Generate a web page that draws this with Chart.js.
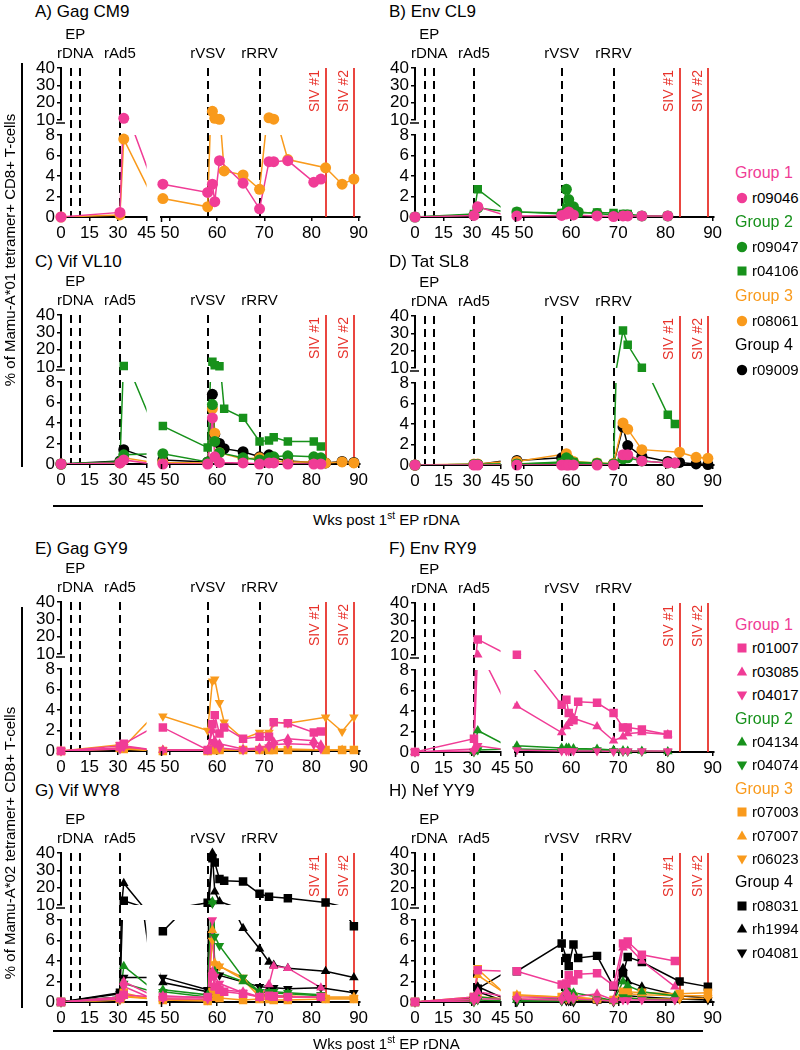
<!DOCTYPE html>
<html>
<head>
<meta charset="utf-8">
<script src="https://cdn.jsdelivr.net/npm/chart.js@4.4.1/dist/chart.umd.min.js"></script>
<style>
  body { margin: 0; background: #fff; font-family: "Liberation Sans", Arial, sans-serif; }
  #page { position: relative; width: 800px; height: 1050px; overflow: hidden; background: #fff; }
  #page canvas { position: absolute; }
  .txt { position: absolute; white-space: nowrap; line-height: 20px; }
  .rot { position: absolute; white-space: nowrap; transform: translate(-50%, -50%) rotate(-90deg); font-size: 15px; }
  .hline { position: absolute; height: 1.5px; background: #000; }
  .vline { position: absolute; width: 1.5px; background: #000; }
</style>
</head>
<body>
<div id="page"></div>
<script>
// weeks after first EP rDNA at which samples were taken
const weeks = [0, 31, 33, 48.5, 58, 59, 59.5, 60.5, 61.5, 65.5, 69, 71, 72, 75, 80.5, 82, 83, 86.5, 89]

const xTicksEarly = [0, 15, 30, 45]
const xTicksLate = [50, 60, 70, 80, 90]
const yTicksLow = [0, 2, 4, 6, 8]
const yTicksHigh = [10, 20, 30, 40]

const vaccineWeeks = [5, 10, 31, 58, 69]
const vaccineLabels = [['rAd5', 31], ['rVSV', 58], ['rRRV', 69]]
const sivWeeks = [83, 89]
const sivLabels = ['SIV #1', 'SIV #2']

// Mamu-A*01 animals by group
const groupsA01 = [['r09046'], ['r09047', 'r04106'], ['r08061'], ['r09009']]
// Mamu-A*02 animals by group
const groupsA02 = [['r01007', 'r03085', 'r04017'], ['r04134', 'r04074'], ['r07003', 'r07007', 'r06023'], ['r08031', 'rh1994', 'r04081']]

// A) Gag CM9
const A_r09046 = [0, 0.45, 11, 3.2, 2.4, 3.2, 1.5, 5.5, null, 3.3, 0.8, 5.4, 5.4, 5.5, 3.4, 3.7, null, null, null]
const A_r08061 = [0, 0.2, 7.6, 1.8, 1.0, 15, 11, 10.4, 4.5, 4.1, 2.7, 11.3, 10.5, 5.6, null, null, 4.8, 3.2, 3.7]
// B) Env CL9
const B_r09046 = [0, 0.15, 1.0, 0.1, 0.15, 0.3, 0.5, 0.2, null, 0.1, 0.05, 0.1, 0.1, 0.1, 0.1, null, null, null, null]
const B_r09047 = [0, 0.2, 0.9, 0.5, 0.3, 2.7, 1.7, 1.0, 0.5, 0.35, 0.2, 0.2, 0.2, 0.1, 0.1, null, null, null, null]
const B_r04106 = [0, 0.3, 2.7, 0.5, 0.4, 0.9, 0.6, 0.5, 0.4, 0.45, 0.4, 0.3, 0.3, 0.1, 0.1, null, null, null, null]
// C) Vif VL10
const C_r09046 = [0, 0.1, 0.4, 0, 0, 4.5, 0.7, 0.15, null, 0.1, 0, 0.1, 0.1, 0, 0, 0, null, null, null]
const C_r09047 = [0, 0.2, 0.9, 1.0, 0.2, 5.8, 2.2, 1.1, null, 0.6, 0.4, 0.6, 0.7, 0.8, 0.7, 0.6, null, null, null]
const C_r04106 = [0, 0.2, 10.6, 3.7, 1.6, 13, 11, 10.4, 5.4, 4.5, 2.2, 2.3, 2.6, 2.2, 2.2, 1.7, null, null, null]
const C_r08061 = [0, 0.1, 0.6, 0.15, 0.1, 5.4, 3.0, 1.1, null, 0.5, 0.6, 0.3, 0.3, 0.2, 0.2, 0.2, 0.1, 0.2, 0.1]
const C_r09009 = [0, 0.3, 1.4, 0.4, 0.2, 6.8, 2.9, 2.0, 1.5, 1.2, 0.7, 0.9, 0.6, 0.3, 0.15, 0.1, 0.1, 0.25, 0.15]
// D) Tat SL8
const D_r09046 = [0, 0, 0, 0, 0, 0, 0, 0, null, 0, 0, 1.0, 1.0, 0.4, 0.2, 0.2, null, null, null]
const D_r09047 = [0, 0.05, 0.05, 0.1, 0.2, 0.7, 0.5, 0.2, null, 0.15, 0.1, 0.6, 0.7, 0.4, 0.2, 0.2, null, null, null]
const D_r04106 = [0, 0.05, 0.05, 0.1, 0.3, 0.6, 0.5, 0.3, null, 0.2, 0.1, 31.6, 23.4, 10.2, 4.9, 4.0, null, null, null]
const D_r08061 = [0, 0.1, 0.1, 0.35, null, 1.1, 0.6, 0.35, null, 0.2, 0.15, 4.1, 3.5, 1.5, null, null, 1.25, 0.75, 0.65]
const D_r09009 = [0, 0.05, 0.05, 0.45, 0.7, 0.5, 0.3, 0.2, null, 0.1, 0.1, 3.7, 1.9, 0.85, 0.35, null, 0.25, 0.1, 0.05]
// E) Gag GY9
const E_r01007 = [0, 0.5, 0.7, 2.3, 0.1, 2.6, 3.5, 1.7, 2.3, 1.2, 1.4, 1.4, 2.8, 2.7, 1.8, 1.9, null, null, null]
const E_r03085 = [0, 0.3, 0.5, 0.1, 0.1, 2.0, 1.0, 0.7, null, 0.2, 0.3, 0.6, 0.9, 1.2, 1.0, 0.6, null, null, null]
const E_r04017 = [0, 0.2, 0.4, 0.1, 0.1, 0.9, 0.7, 0.3, null, 0.1, 0.2, 0.4, 0.6, 0.7, 0.6, 0.2, null, null, null]
const E_r07003 = [0, 0.3, 0.2, 0, 0, 0.1, 0.1, 0.1, null, 0.1, 0.1, 0.1, 0.1, 0.1, null, null, 0.1, 0.1, 0.1]
const E_r07007 = [0, 0.2, 0.3, 0.1, 0.1, 0.2, 0.2, 0.1, null, 0.1, 0.1, 0.2, 0.2, 0.2, null, null, 0.1, 0.1, 0.1]
const E_r06023 = [0, 0.6, 0.4, 3.4, 2.0, 6.8, 7.0, 4.7, 2.8, 1.2, 1.8, 1.8, 2.8, 2.7, null, null, 3.3, 1.9, 3.3]
// F) Env RY9
const F_r01007 = [0, 1.3, 19, 10.2, 4.6, 5.1, 3.8, 3.1, 4.9, 4.8, 3.8, 2.4, 2.4, 2.2, 1.7, null, null, null, null]
const F_r03085 = [0, 0.3, 10.2, 4.5, 1.9, 2.5, 2.8, 3.3, null, 2.5, 1.1, 1.5, 1.8, 1.9, 1.7, null, null, null, null]
const F_r04017 = [0, 0.1, 0.6, 0.2, 0.1, 0.1, 0.1, 0.1, null, 0.1, 0.05, 0.1, 0.1, 0.1, 0.1, null, null, null, null]
const F_r04134 = [0, 0.05, 2.1, 0.6, 0.4, 0.4, 0.4, 0.35, null, 0.3, 0.2, 0.15, 0.1, 0.1, 0.05, null, null, null, null]
const F_r04074 = [0, 0, 0.2, 0.3, 0.2, 0.2, 0.2, 0.2, null, 0.2, 0.1, 0.05, 0.05, 0.05, 0, null, null, null, null]
// G) Vif WY8
const G_r01007 = [0, 0.4, 0.7, 0.5, 0.5, 2.5, 1.5, 1.2, 1.0, 0.8, 0.5, 0.6, 0.5, 0.5, null, 0.5, null, null, null]
const G_r03085 = [0, 0.5, 2.0, 0.6, 0.4, 3.0, 1.5, 1.2, null, 1.0, 0.5, 1.7, 3.5, 3.3, null, 1.4, null, null, null]
const G_r04017 = [0, 0.3, 1.5, 0.3, 0.3, 8.0, 2.5, 1.8, null, 0.9, 0.5, 0.6, 0.7, 0.5, null, 0.5, null, null, null]
const G_r04134 = [0, 0.5, 3.5, 1.2, 0.7, 12, 3.0, null, null, 2.0, 1.0, 0.9, null, 0.8, null, 0.6, null, null, null]
const G_r04074 = [0, 0.3, 1.8, 1.0, 0.5, 11, 6.4, 5.5, null, 2.4, 1.0, 1.0, 1.0, 0.9, null, 0.7, null, null, null]
const G_r07003 = [0, 0.3, 0.9, 0.2, 0.1, 1.0, 0.5, 0.4, null, 0.2, 0.3, 0.3, 0.2, 0.2, null, null, 0.3, null, 0.3]
const G_r07007 = [0, 0.2, 0.6, 0.3, 0.2, 7.0, 3.8, 3.5, null, 2.2, 0.5, 0.5, 0.5, 0.5, null, null, 0.5, null, 0.5]
const G_r06023 = [0, 0.2, 0.5, 0.3, 0.2, 6.0, 3.7, 3.5, null, 2.4, 0.8, 0.6, 0.6, 0.6, null, null, 0.4, null, 0.4]
const G_r08031 = [0, 0.9, 12.5, 6.9, 11.3, 37, 34.5, 25, 24, 23.5, 16.5, 14.8, null, 13.9, null, null, 11.5, null, 7.4]
const G_rh1994 = [0, 0.5, 22.6, 1.9, 1.0, 40, 17.7, 12, null, 7.2, 5.2, 3.9, 3.6, 3.3, null, null, 3.0, null, 2.4]
const G_r04081 = [0, 0.8, 2.4, 2.4, 1.2, 11, 3.0, 2.6, null, null, 1.5, 1.4, 1.4, 1.3, null, 1.4, null, null, 0.9]
// H) Nef YY9
const H_r01007 = [0, 0.5, 3.1, 3.0, 1.7, 1.8, 2.6, 2.1, 2.7, 2.8, 1.6, 5.7, 5.9, 4.6, null, 4.0, null, null, null]
const H_r03085 = [0, 0.3, 1.0, 0.5, 0.4, 1.0, 0.6, 0.5, null, 0.8, 0.2, 5.3, 5.5, 4.0, null, 1.5, null, null, null]
const H_r04017 = [0, 0.1, 0.3, 0.3, 0.2, 0.7, 0.3, 0.3, null, 0.2, 0.1, 0.2, 0.2, 0.2, null, 0.2, null, null, null]
const H_r04134 = [0, 0.1, 0.5, 0.2, 0.3, 1.2, 1.1, 0.9, null, 0.5, 0.1, 2.0, 1.6, 1.0, null, 0.6, null, null, null]
const H_r04074 = [0, 0, 0.2, 0.1, 0.1, 0.5, 0.3, 0.2, null, 0.2, 0.1, 0.5, 0.4, 0.3, null, 0.2, null, null, null]
const H_r07003 = [0, 0.5, 3.2, 0.6, 0.5, 0.6, 0.7, 0.5, null, 0.3, 0.2, 1.0, 1.0, 0.9, null, null, 0.8, null, 0.9]
const H_r07007 = [0, 0.3, 2.6, 0.7, 0.5, 0.5, 0.5, 0.4, null, 0.3, 0.2, 0.9, 0.8, 0.7, null, null, 0.6, null, 0.6]
const H_r06023 = [0, 0.1, 0.5, 0.3, 0.2, 0.3, 0.3, 0.2, null, 0.2, 0.1, 0.4, 0.4, 0.3, null, null, 0.3, null, 0.4]
const H_r08031 = [0, 0.4, 1.3, 3.0, 5.7, 4.3, 3.5, 5.6, 4.3, 4.5, 1.5, 2.8, 4.4, 3.9, null, null, 2.0, null, 1.5]
const H_rh1994 = [0, 0.3, 1.5, 0.2, 0.3, 0.5, 0.3, 0.2, null, 0.1, 0.1, 3.3, 2.0, 1.5, null, null, 0.6, null, 0.4]
const H_r04081 = [0, 0.2, 1.0, 0, 0.1, 0.1, 0.1, 0, null, 0.1, 0, 0.8, 0.6, 0.5, null, null, 0.3, null, 0.2]

const FONT = '"Liberation Sans", Arial, sans-serif'
const RED = '#e8322b'
const GROUP_COLORS = ['#f03c96', '#17911b', '#f99a1c', '#000000']
const SHAPES = {
  r09046: 'circle', r09047: 'circle', r04106: 'rect', r08061: 'circle', r09009: 'circle',
  r01007: 'rect', r03085: 'tri', r04017: 'inv', r04134: 'tri', r04074: 'inv',
  r07003: 'rect', r07007: 'tri', r06023: 'inv', r08031: 'rect', rh1994: 'tri', r04081: 'inv'
}

const panels = [
  { title: 'A) Gag CM9', tx: 35, ty: 12, x0: 61, y0: 68, series: [['r09046', A_r09046], ['r08061', A_r08061]] },
  { title: 'B) Env CL9', tx: 389, ty: 12, x0: 415, y0: 68, series: [['r09046', B_r09046], ['r09047', B_r09047], ['r04106', B_r04106]] },
  { title: 'C) Vif VL10', tx: 35, ty: 262, x0: 61, y0: 315, series: [['r09046', C_r09046], ['r09047', C_r09047], ['r04106', C_r04106], ['r08061', C_r08061], ['r09009', C_r09009]] },
  { title: 'D) Tat SL8', tx: 389, ty: 262, x0: 415, y0: 316, series: [['r09046', D_r09046], ['r09047', D_r09047], ['r04106', D_r04106], ['r08061', D_r08061], ['r09009', D_r09009]] },
  { title: 'E) Gag GY9', tx: 35, ty: 549, x0: 61, y0: 602, series: [['r01007', E_r01007], ['r03085', E_r03085], ['r04017', E_r04017], ['r07003', E_r07003], ['r07007', E_r07007], ['r06023', E_r06023]] },
  { title: 'F) Env RY9', tx: 389, ty: 549, x0: 415, y0: 603, series: [['r01007', F_r01007], ['r03085', F_r03085], ['r04017', F_r04017], ['r04134', F_r04134], ['r04074', F_r04074]] },
  { title: 'G) Vif WY8', tx: 35, ty: 791, x0: 61, y0: 853, series: [['r01007', G_r01007], ['r03085', G_r03085], ['r04017', G_r04017], ['r04134', G_r04134], ['r04074', G_r04074], ['r07003', G_r07003], ['r07007', G_r07007], ['r06023', G_r06023], ['r08031', G_r08031], ['rh1994', G_rh1994], ['r04081', G_r04081]] },
  { title: 'H) Nef YY9', tx: 389, ty: 791, x0: 415, y0: 853, series: [['r01007', H_r01007], ['r03085', H_r03085], ['r04017', H_r04017], ['r04134', H_r04134], ['r04074', H_r04074], ['r07003', H_r07003], ['r07007', H_r07007], ['r06023', H_r06023], ['r08031', H_r08031], ['rh1994', H_rh1994], ['r04081', H_r04081]] }
]

const page = document.getElementById('page')

function groupOf(name) {
  for (const gs of [groupsA01, groupsA02]) {
    const g = gs.findIndex(list => list.includes(name))
    if (g >= 0) return g
  }
  return 3
}

function addText(html, left, cy, size, color, extra) {
  const d = document.createElement('div')
  d.className = 'txt'
  d.innerHTML = html
  d.style.left = left + 'px'
  d.style.top = (cy - 10) + 'px'
  d.style.fontSize = size + 'px'
  d.style.color = color || '#000'
  if (extra) Object.assign(d.style, extra)
  page.appendChild(d)
  return d
}

// canvas geometry: plot area is 300 x 149 px, starting 45px from the left and 60px from the top
const CW = 355, CH = 239

const tickFont = { family: FONT, size: 17 }
function axisBase(extra) {
  return Object.assign({
    type: 'linear',
    grid: { display: true, drawOnChartArea: false, drawTicks: true, tickLength: 4, color: '#000', lineWidth: 1.5 },
    border: { display: true, color: '#000', width: 2 },
    ticks: { color: '#000', font: tickFont, padding: 2, autoSkip: false, maxRotation: 0 }
  }, extra)
}

const annotations = {
  id: 'annotations',
  beforeDatasetsDraw(chart) {
    const { ctx, scales } = chart
    const top = scales.yH.top, bottom = scales.yL.bottom
    const px = w => (w <= 45 ? scales.xE : scales.xL).getPixelForValue(w)
    ctx.save()
    ctx.strokeStyle = '#000'
    ctx.lineWidth = 2
    ctx.setLineDash([8, 5])
    for (const w of vaccineWeeks) {
      const x = Math.round(px(w))
      ctx.beginPath(); ctx.moveTo(x, top); ctx.lineTo(x, bottom); ctx.stroke()
    }
    ctx.setLineDash([])
    ctx.strokeStyle = RED
    ctx.lineWidth = 1.8
    for (const w of sivWeeks) {
      const x = Math.round(px(w))
      ctx.beginPath(); ctx.moveTo(x, top); ctx.lineTo(x, bottom); ctx.stroke()
    }
    ctx.restore()
  },
  afterDraw(chart) {
    const { ctx, scales } = chart
    const top = scales.yH.top
    const px = w => (w <= 45 ? scales.xE : scales.xL).getPixelForValue(w)
    ctx.save()
    ctx.fillStyle = '#000'
    ctx.font = '15px ' + FONT
    ctx.textAlign = 'center'
    ctx.textBaseline = 'middle'
    ctx.fillText('EP', px(7.5), top - 33)
    ctx.fillText('rDNA', px(7.5), top - 14)
    for (const [lab, w] of vaccineLabels) ctx.fillText(lab, px(w), top - 14)
    // SIV labels, rotated
    ctx.fillStyle = RED
    ctx.font = '14px ' + FONT
    ctx.textAlign = 'right'
    sivWeeks.forEach((w, i) => {
      ctx.save()
      ctx.translate(px(w) - 10, top + 2)
      ctx.rotate(-Math.PI / 2)
      ctx.fillText(sivLabels[i], 0, 0)
      ctx.restore()
    })
    // axis break marks
    ctx.strokeStyle = '#000'
    ctx.lineWidth = 1.5
    const ax = chart.chartArea.left
    const yb = scales.yH.bottom + 3
    ctx.beginPath(); ctx.moveTo(ax - 5, yb); ctx.lineTo(ax + 4, yb); ctx.stroke()
    const xa = scales.xL.top
    ctx.beginPath(); ctx.moveTo(scales.xL.left + 1, xa); ctx.lineTo(scales.xL.left + 1, xa + 5); ctx.stroke()
    ctx.restore()
  }
}

function makePanel(p) {
  addText(p.title, p.tx, p.ty, 17)
  const cv = document.createElement('canvas')
  cv.width = CW; cv.height = CH
  cv.style.left = (p.x0 - 45) + 'px'
  cv.style.top = (p.y0 - 60) + 'px'
  page.appendChild(cv)

  const datasets = []
  for (const [name, vals] of p.series) {
    const col = GROUP_COLORS[groupOf(name)]
    const shape = SHAPES[name]
    const pointStyle = shape === 'circle' ? 'circle' : shape === 'rect' ? 'rect' : 'triangle'
    const rotation = shape === 'inv' ? 180 : 0
    const radius = shape === 'circle' ? 5.5 : shape === 'rect' ? 6 : 5.5
    const pts = weeks.map((w, i) => ({ x: w, y: vals[i] })).filter(d => d.y !== null)
    for (const xs of ['xE', 'xL']) {
      for (const ys of ['yH', 'yL']) {
        datasets.push({
          data: pts, xAxisID: xs, yAxisID: ys, order: 1, clip: 0,
          borderColor: col, backgroundColor: col, borderWidth: 1.5, pointRadius: 0
        })
        const inX = xs === 'xE' ? d => d.x <= 45 : d => d.x >= 48
        const inY = ys === 'yL' ? d => d.y <= 8.6 : d => d.y >= 9.4
        datasets.push({
          data: pts.filter(d => inX(d) && inY(d)), xAxisID: xs, yAxisID: ys, order: 0, clip: 12,
          showLine: false, pointStyle, rotation, pointRadius: radius,
          backgroundColor: col, borderColor: col, borderWidth: 0
        })
      }
    }
  }

  new Chart(cv.getContext('2d'), {
    type: 'line',
    data: { datasets },
    options: {
      responsive: false,
      animation: false,
      events: [],
      layout: { padding: { left: 15, right: 10, top: 60, bottom: 6 } },
      plugins: { legend: { display: false }, tooltip: { enabled: false } },
      scales: {
        xE: axisBase({ position: 'bottom', stack: 'x', stackWeight: 86, weight: 1, min: 0, max: 45,
          afterBuildTicks: s => { s.ticks = xTicksEarly.map(v => ({ value: v })) },
          afterFit: s => { s.height = 24 } }),
        xG: { type: 'linear', display: false, position: 'bottom', stack: 'x', stackWeight: 14, weight: 2, min: 0, max: 1 },
        xL: axisBase({ position: 'bottom', stack: 'x', stackWeight: 200, weight: 3, min: 48, max: 90.2,
          afterBuildTicks: s => { s.ticks = xTicksLate.map(v => ({ value: v })) },
          afterFit: s => { s.height = 24 } }),
        yH: axisBase({ position: 'left', stack: 'y', stackWeight: 52, weight: 3, min: 10, max: 40,
          afterBuildTicks: s => { s.ticks = yTicksHigh.map(v => ({ value: v })) },
          afterFit: s => { s.width = 30 } }),
        yG: { type: 'linear', display: false, position: 'left', stack: 'y', stackWeight: 15, weight: 2, min: 0, max: 1 },
        yL: axisBase({ position: 'left', stack: 'y', stackWeight: 82, weight: 1, min: 0, max: 8,
          afterBuildTicks: s => { s.ticks = yTicksLow.map(v => ({ value: v })) },
          afterFit: s => { s.width = 30 } })
      }
    },
    plugins: [annotations]
  })
}

panels.forEach(makePanel)

// shared axis titles
function rotLabel(text, cx, cy) {
  const d = document.createElement('div')
  d.className = 'rot'
  d.textContent = text
  d.style.left = cx + 'px'
  d.style.top = cy + 'px'
  page.appendChild(d)
}
rotLabel('% of Mamu-A*01 tetramer+ CD8+ T-cells', 9, 250)
rotLabel('% of Mamu-A*02 tetramer+ CD8+ T-cells', 9, 843)

function vline(x, y1, y2) {
  const d = document.createElement('div')
  d.className = 'vline'
  Object.assign(d.style, { left: x + 'px', top: y1 + 'px', height: (y2 - y1) + 'px' })
  page.appendChild(d)
}
function hline(x1, x2, y) {
  const d = document.createElement('div')
  d.className = 'hline'
  Object.assign(d.style, { left: x1 + 'px', top: y + 'px', width: (x2 - x1) + 'px' })
  page.appendChild(d)
}
vline(21, 63, 467)
vline(21, 607, 1008)
hline(53, 703, 505)
hline(53, 703, 1030)
const xTitle = 'Wks post 1<sup style="font-size:10px">st</sup> EP rDNA'
addText(xTitle, 313, 516, 15)
addText(xTitle, 313, 1040, 15)

// legends
function marker(shape, color, cx, cy) {
  let inner
  if (shape === 'circle') inner = `<circle cx="7" cy="7" r="5.2" fill="${color}"/>`
  else if (shape === 'rect') inner = `<rect x="2.5" y="2.5" width="9" height="9" fill="${color}"/>`
  else if (shape === 'tri') inner = `<polygon points="7,1.5 12.2,10.5 1.8,10.5" fill="${color}"/>`
  else inner = `<polygon points="7,12.5 12.2,3.5 1.8,3.5" fill="${color}"/>`
  const d = document.createElement('div')
  d.style.position = 'absolute'
  d.style.left = (cx - 7) + 'px'
  d.style.top = (cy - 7) + 'px'
  d.innerHTML = `<svg width="14" height="14" viewBox="0 0 14 14">${inner}</svg>`
  page.appendChild(d)
}
function legend(groups, y, step) {
  groups.forEach((names, g) => {
    addText('Group ' + (g + 1), 735, y, 16, GROUP_COLORS[g])
    y += step
    for (const n of names) {
      marker(SHAPES[n], GROUP_COLORS[g], 742, y)
      addText(n, 752, y, 15)
      y += step
    }
  })
}
legend(groupsA01, 173, 24.6)
legend(groupsA02, 625, 23.4)
</script>
</body>
</html>
